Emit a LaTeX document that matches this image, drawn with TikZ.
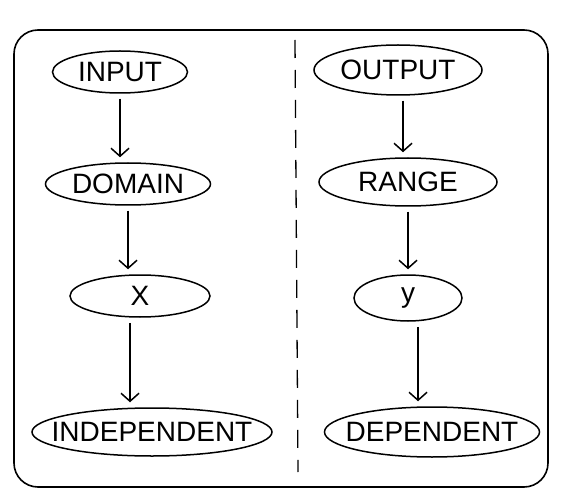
\documentclass[tikz,border=0pt]{standalone}
\usepackage{fontspec}
\setmainfont{Liberation Sans}
\usetikzlibrary{shapes.geometric,arrows.meta}
\begin{document}
\begin{tikzpicture}[x=1pt,y=-1pt,
  oval/.style={ellipse,draw,line width=1.5pt,inner sep=0pt},
  word/.style={font=\fontsize{28}{30}\selectfont,inner sep=0pt},
  flow/.style={line width=1.5pt,shorten <=5pt,shorten >=5pt,-{Straight Barb[length=8pt,width=18pt]}},
  frame/.style={line width=1.6pt,rounded corners=24pt},
  divider/.style={line width=1.3pt,dash pattern=on 18pt off 12pt}]
\useasboundingbox (0,0) rectangle (562,497);
\draw[frame] (14,30) rectangle (548,487);
\coordinate (dtop) at (295,40);
\coordinate (dbot) at (298,472);
\draw[divider] (dtop) -- (dbot);
% left column
\node[oval,minimum width=135pt,minimum height=42pt] (input) at (120,72) {};
\node[oval,minimum width=165pt,minimum height=42pt] (domain) at (128,184) {};
\node[oval,minimum width=140pt,minimum height=42pt] (x) at (140,296) {};
\node[oval,minimum width=240pt,minimum height=48pt] (indep) at (152,432) {};
% right column
\node[oval,minimum width=168pt,minimum height=50pt] (output) at (398,70) {};
\node[oval,minimum width=178pt,minimum height=48pt] (range) at (408,182) {};
\node[oval,minimum width=108pt,minimum height=46pt] (y) at (408,298) {};
\node[oval,minimum width=215pt,minimum height=50pt] (dep) at (432,432) {};
% texts
\node[word] (inputt) at (input.center) {INPUT};
\node[word] (domaint) at (domain.center) {DOMAIN};
\node[word] (xt) at (x.center) {X};
\node[word] (indept) at (indep.center) {INDEPENDENT};
\node[word] (outputt) at (output.center) {OUTPUT};
\node[word] (ranget) at (range.center) {RANGE};
\node[word] (yt) at (y.center) {y};
\node[word] (dept) at (dep.center) {DEPENDENT};
% arrows
\draw[flow] (input.south) -- (input.south |- domain.north);
\draw[flow] (domain.south) -- (domain.south |- x.north);
\draw[flow] ([xshift=-10pt]x.south) -- ([xshift=-10pt]x.south |- indep.north);
\draw[flow] ([xshift=5pt]output.south) -- ([xshift=5pt]output.south |- range.north);
\draw[flow] (range.south) -- (range.south |- y.north);
\draw[flow] ([xshift=10pt]y.south) -- ([xshift=10pt]y.south |- dep.north);
\end{tikzpicture}
\end{document}
